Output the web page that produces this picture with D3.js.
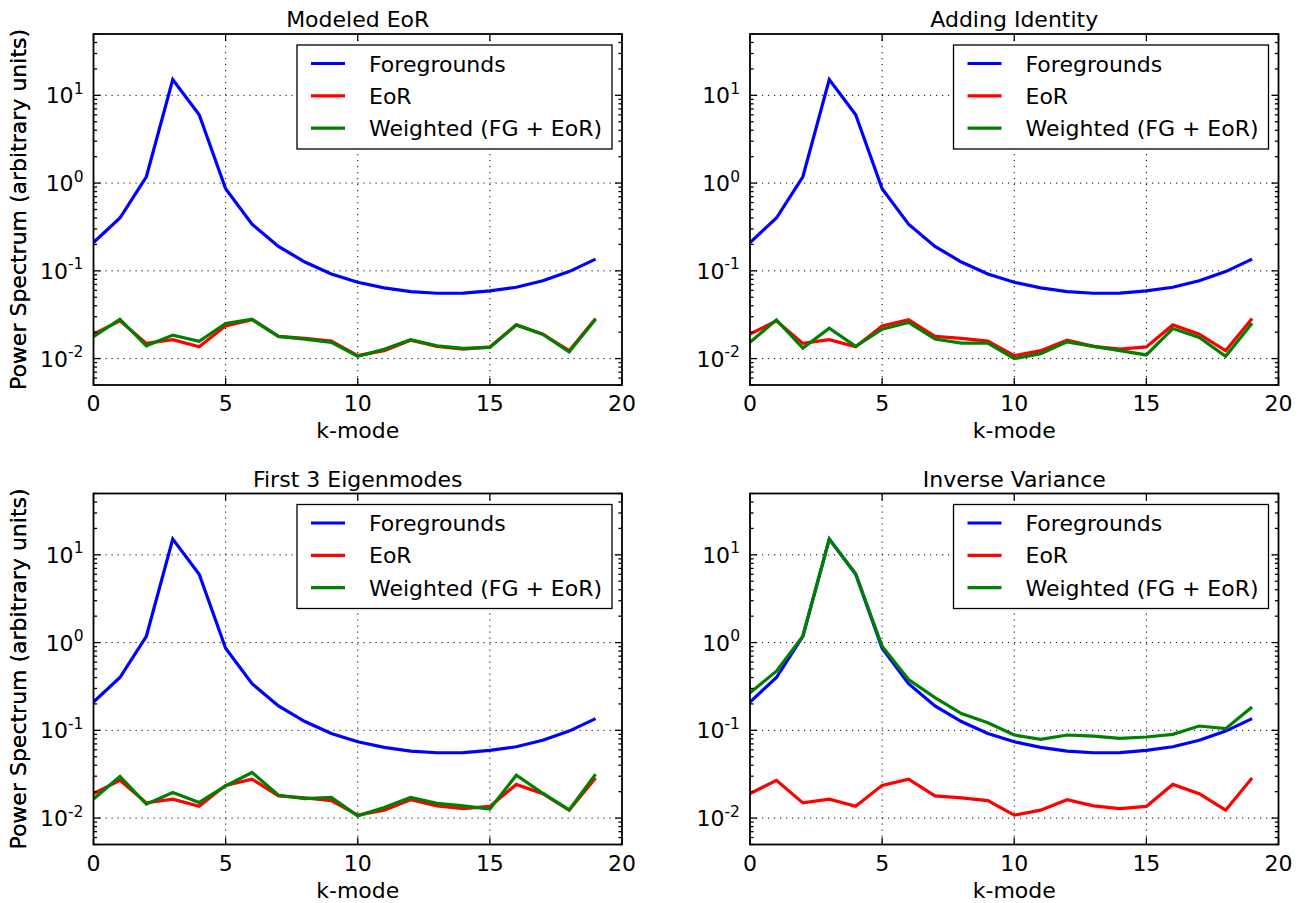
<!DOCTYPE html>
<html>
<head>
<meta charset="utf-8">
<script src="https://cdn.jsdelivr.net/npm/d3@7/dist/d3.min.js"></script>
<style>
  html, body { margin: 0; padding: 0; background: #fff; }
  svg { display: block; }
  text { font-family: "DejaVu Sans", sans-serif; fill: #000; }
</style>
</head>
<body>
<svg id="fig" width="1312" height="903"></svg>
<script>
// k-modes along the horizontal axis
const kModes = [0, 1, 2, 3, 4, 5, 6, 7, 8, 9, 10, 11, 12, 13, 14, 15, 16, 17, 18, 19];

// Foreground power spectrum (same in every panel)
const foregrounds = [0.21, 0.40, 1.18, 15.1, 6.0, 0.86, 0.34, 0.19, 0.126, 0.092,
                     0.074, 0.064, 0.058, 0.0555, 0.0556, 0.059, 0.065, 0.077, 0.098, 0.136];

// EoR power spectrum (same in every panel)
const eor = [0.019, 0.0269, 0.0149, 0.0164, 0.0136, 0.0236, 0.0278, 0.0179, 0.0170, 0.0158,
             0.0108, 0.0123, 0.0162, 0.0138, 0.0128, 0.0136, 0.0242, 0.019, 0.0123, 0.0286];

// Weighted (FG + EoR) estimates for each weighting scheme
const weightedModeled = [0.0178, 0.0281, 0.0140, 0.0185, 0.0157, 0.0251, 0.0281, 0.0179, 0.0167, 0.0153,
                         0.0106, 0.0128, 0.0164, 0.0140, 0.0131, 0.0134, 0.0242, 0.019, 0.0119, 0.0281];
const weightedIdentity = [0.0153, 0.0276, 0.0132, 0.0222, 0.0138, 0.0216, 0.0258, 0.0167, 0.0150, 0.0150,
                          0.0100, 0.0114, 0.0155, 0.0138, 0.0123, 0.0110, 0.0220, 0.0174, 0.0106, 0.0253];
const weightedEigen = [0.0165, 0.0298, 0.0144, 0.0196, 0.0151, 0.0233, 0.0331, 0.0182, 0.0167, 0.0172,
                       0.0106, 0.0132, 0.0172, 0.0147, 0.0138, 0.0127, 0.0308, 0.0192, 0.0124, 0.0316];
const weightedInvVar = [0.268, 0.472, 1.18, 15.1, 6.08, 0.908, 0.38, 0.236, 0.155, 0.122,
                        0.0885, 0.079, 0.0885, 0.0861, 0.081, 0.084, 0.090, 0.112, 0.1045, 0.184];

const panelTitles = ["Modeled EoR", "Adding Identity", "First 3 Eigenmodes", "Inverse Variance"];
const weightedSets = [weightedModeled, weightedIdentity, weightedEigen, weightedInvVar];

const seriesNames = ["Foregrounds", "EoR", "Weighted (FG + EoR)"];
const seriesColors = ["#0000ff", "#ff0000", "#008000"];

const xTicks = [0, 5, 10, 15, 20];
const yTickExponents = ["-2", "-1", "0", "1"];
const yDomain = [0.005, 50];
const xDomain = [0, 20];

const xLabel = "k-mode";
const yLabel = "Power Spectrum (arbitrary units)";

// ---- layout ----
const FONT = 22;
const panelW = 528.5, panelH = 351;
const panelOrigins = [[93.5, 34], [750, 34], [93.5, 493.5], [750, 493.5]];

const svg = d3.select("#fig");
svg.append("rect").attr("width", 1312).attr("height", 903).attr("fill", "#fff");

panelOrigins.forEach(([px, py], i) => {
  const g = svg.append("g").attr("transform", `translate(${px},${py})`);
  const x = d3.scaleLinear().domain(xDomain).range([0, panelW]);
  const y = d3.scaleLog().domain(yDomain).range([panelH, 0]);

  const clipId = "clip" + i;
  g.append("clipPath").attr("id", clipId)
    .append("rect").attr("width", panelW).attr("height", panelH);

  // dotted grid
  const grid = g.append("g").attr("stroke", "#000").attr("stroke-width", 1)
    .attr("stroke-dasharray", "1.2,4.8");
  xTicks.slice(1, -1).forEach(v => {
    grid.append("line").attr("x1", x(v)).attr("x2", x(v)).attr("y1", 0).attr("y2", panelH);
  });
  yTickExponents.forEach(e => {
    const v = Math.pow(10, +e);
    grid.append("line").attr("x1", 0).attr("x2", panelW).attr("y1", y(v)).attr("y2", y(v));
  });

  // series lines
  const line = d3.line().x((d, j) => x(kModes[j])).y(d => y(d));
  const data = [foregrounds, eor, weightedSets[i]];
  const lines = g.append("g").attr("clip-path", `url(#${clipId})`);
  data.forEach((arr, s) => {
    lines.append("path").datum(arr)
      .attr("d", line)
      .attr("fill", "none")
      .attr("stroke", seriesColors[s])
      .attr("stroke-width", 3.2)
      .attr("stroke-linejoin", "miter");
  });

  // ticks inside on all four sides
  const ticks = g.append("g").attr("stroke", "#000").attr("stroke-width", 1.3);
  const major = 7, minor = 3.6;
  xTicks.forEach(v => {
    ticks.append("line").attr("x1", x(v)).attr("x2", x(v)).attr("y1", panelH).attr("y2", panelH - major);
    ticks.append("line").attr("x1", x(v)).attr("x2", x(v)).attr("y1", 0).attr("y2", major);
  });
  const yMajor = y.ticks().filter(v => Math.abs(Math.log10(v) - Math.round(Math.log10(v))) < 1e-9);
  const yAll = y.ticks();
  yAll.forEach(v => {
    const len = yMajor.includes(v) ? major : minor;
    ticks.append("line").attr("x1", 0).attr("x2", len).attr("y1", y(v)).attr("y2", y(v));
    ticks.append("line").attr("x1", panelW).attr("x2", panelW - len).attr("y1", y(v)).attr("y2", y(v));
  });

  // frame
  g.append("rect").attr("width", panelW).attr("height", panelH)
    .attr("fill", "none").attr("stroke", "#000").attr("stroke-width", 1.8);

  // x tick labels
  xTicks.forEach(v => {
    g.append("text").attr("x", x(v)).attr("y", panelH + 26)
      .attr("text-anchor", "middle").attr("font-size", FONT).text(v);
  });

  // y tick labels as powers of ten
  yTickExponents.forEach(e => {
    const v = Math.pow(10, +e);
    const t = g.append("text").attr("x", -10).attr("y", y(v) + 8)
      .attr("text-anchor", "end").attr("font-size", FONT);
    t.append("tspan").text("10");
    t.append("tspan").attr("dy", -9.5).attr("font-size", 15.5).text(e);
  });

  // axis labels
  g.append("text").attr("x", panelW / 2).attr("y", panelH + 53)
    .attr("text-anchor", "middle").attr("font-size", FONT).text(xLabel);
  g.append("text")
    .attr("transform", `translate(${-px + 26},${panelH / 2}) rotate(-90)`)
    .attr("text-anchor", "middle").attr("font-size", FONT).text(yLabel);

  // title
  g.append("text").attr("x", panelW / 2).attr("y", -7)
    .attr("text-anchor", "middle").attr("font-size", FONT).text(panelTitles[i]);

  // legend, upper right
  const legW = 315, legH = 104;
  const lg = g.append("g").attr("transform", `translate(${panelW - 10 - legW},11)`);
  lg.append("rect").attr("width", legW).attr("height", legH)
    .attr("fill", "#fff").attr("stroke", "#000").attr("stroke-width", 1.3);
  seriesNames.forEach((name, s) => {
    const cy = 18.5 + s * 32.3;
    lg.append("line").attr("x1", 14).attr("x2", 48).attr("y1", cy).attr("y2", cy)
      .attr("stroke", seriesColors[s]).attr("stroke-width", 3.2);
    lg.append("text").attr("x", 72).attr("y", cy + 8)
      .attr("font-size", FONT).text(name);
  });
});
</script>
</body>
</html>
